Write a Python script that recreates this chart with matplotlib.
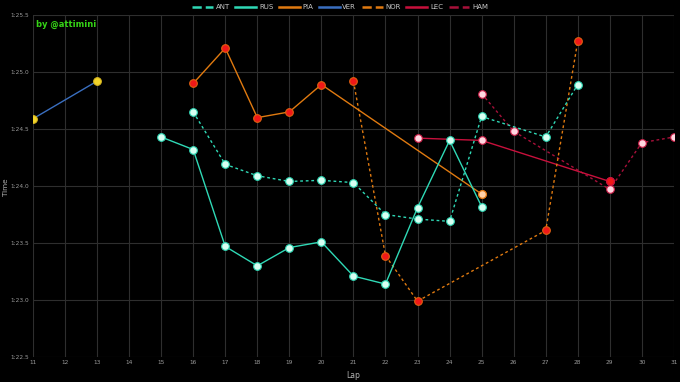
import matplotlib.pyplot as plt
from matplotlib.ticker import FuncFormatter
from matplotlib.lines import Line2D

# lap times in seconds, per driver
ant_laps = [16, 17, 18, 19, 20, 21, 22, 23, 24, 25, 27, 28]
ant_times = [84.65, 84.19, 84.09, 84.04, 84.05, 84.03, 83.75, 83.71, 83.69, 84.61, 84.43, 84.89]

rus_laps = [15, 16, 17, 18, 19, 20, 21, 22, 23, 24, 25]
rus_times = [84.43, 84.32, 83.47, 83.30, 83.46, 83.51, 83.21, 83.14, 83.81, 84.40, 83.82]

pia_laps = [16, 17, 18, 19, 20, 25]
pia_times = [84.90, 85.21, 84.60, 84.65, 84.89, 83.93]

ver_laps = [11, 13]
ver_times = [84.59, 84.92]

nor_laps = [21, 22, 23, 27, 28]
nor_times = [84.92, 83.39, 82.99, 83.61, 85.27]

lec_laps = [23, 25, 29]
lec_times = [84.42, 84.40, 84.04]

ham_laps = [25, 26, 29, 30, 31]
ham_times = [84.81, 84.48, 83.97, 84.38, 84.43]

# marker colours (tyre compound)
red = '#f01818'
mint = '#d8fff2'
yellow = '#f2d42a'
pink = '#ffd6e0'
peach = '#ffd0a8'

fig = plt.figure(figsize=(6.8, 3.82), dpi=100, facecolor='black')
ax = fig.add_axes([0.0485, 0.0654, 0.9425, 0.8953])
ax.set_facecolor('black')

teal = '#2fd9b6'
ms = 5.5
lw = 1.0

# drawn so that earlier legend entries sit on top
ax.plot(ham_laps, ham_times, color='#a8103a', lw=lw, ls=(0, (2, 2)),
        marker='o', ms=ms, mfc=pink, mec='#d0204a', mew=0.8, label='HAM', zorder=3)
ax.plot(lec_laps, lec_times, color='#c8103c', lw=lw,
        marker='o', ms=ms, mfc=pink, mec='#d0204a', mew=0.8, label='LEC', zorder=4)
ax.plot(lec_laps[-1:], lec_times[-1:], ls='none', marker='o', ms=ms,
        mfc=red, mec='#c8103c', mew=0.8, zorder=4)
ax.plot(nor_laps, nor_times, color='#e07a10', lw=lw, ls=(0, (2, 2)),
        marker='o', ms=ms, mfc=red, mec='#e06010', mew=0.8, label='NOR', zorder=5)
ax.plot(ver_laps, ver_times, color='#3a6fc0', lw=lw,
        marker='o', ms=ms, mfc=yellow, mec='#d8b820', mew=0.8, label='VER', zorder=6)
ax.plot(pia_laps, pia_times, color='#e07a10', lw=lw,
        marker='o', ms=ms, mfc=red, mec='#e06010', mew=0.8, label='PIA', zorder=7)
ax.plot(pia_laps[-1:], pia_times[-1:], ls='none', marker='o', ms=ms,
        mfc=peach, mec='#e07a10', mew=0.8, zorder=7)
ax.plot(rus_laps, rus_times, color=teal, lw=lw,
        marker='o', ms=ms, mfc=mint, mec=teal, mew=0.8, label='RUS', zorder=8)
ax.plot(ant_laps, ant_times, color=teal, lw=lw, ls=(0, (2, 2)),
        marker='o', ms=ms, mfc=mint, mec=teal, mew=0.8, label='ANT', zorder=9)

ax.set_xlim(11, 31)
ax.set_ylim(82.5, 85.5)
ax.set_xticks(range(11, 32))
ax.set_yticks([82.5, 83.0, 83.5, 84.0, 84.5, 85.0, 85.5])
ax.yaxis.set_major_formatter(FuncFormatter(lambda v, p: f"{int(v // 60)}:{v % 60:04.1f}"))
ax.grid(True, color='#2e2e2e', lw=0.8)
ax.set_axisbelow(True)
for s in ax.spines.values():
    s.set_visible(False)
ax.tick_params(colors='#9a9a9a', labelsize=4.2, length=0, pad=2.5)

ax.set_xlabel('Lap', color='#b0b0b0', fontsize=5.5, labelpad=4)
fig.text(6 / 680, 0.51, 'Time', color='#b0b0b0', fontsize=5.2, rotation=90,
         ha='center', va='center')

ax.text(0.004, 0.985, 'by @attimini', transform=ax.transAxes, color='#35d416',
        fontsize=6, fontweight='bold', va='top', ha='left')

handles, labels = ax.get_legend_handles_labels()
order = ['ANT', 'RUS', 'PIA', 'VER', 'NOR', 'LEC', 'HAM']
hmap = dict(zip(labels, handles))
leg_handles = []
for name in order:
    h = hmap[name]
    leg_handles.append(Line2D([], [], color=h.get_color(), lw=1.8, ls=h.get_linestyle()))
fig.legend(leg_handles, order, loc='upper center', bbox_to_anchor=(0.5, 1.005),
           ncol=7, frameon=False, fontsize=5, handlelength=3.0,
           columnspacing=0.8, handletextpad=0.4, labelcolor='#c8c8c8')

fig.savefig('out.png', dpi=100, facecolor='black')
